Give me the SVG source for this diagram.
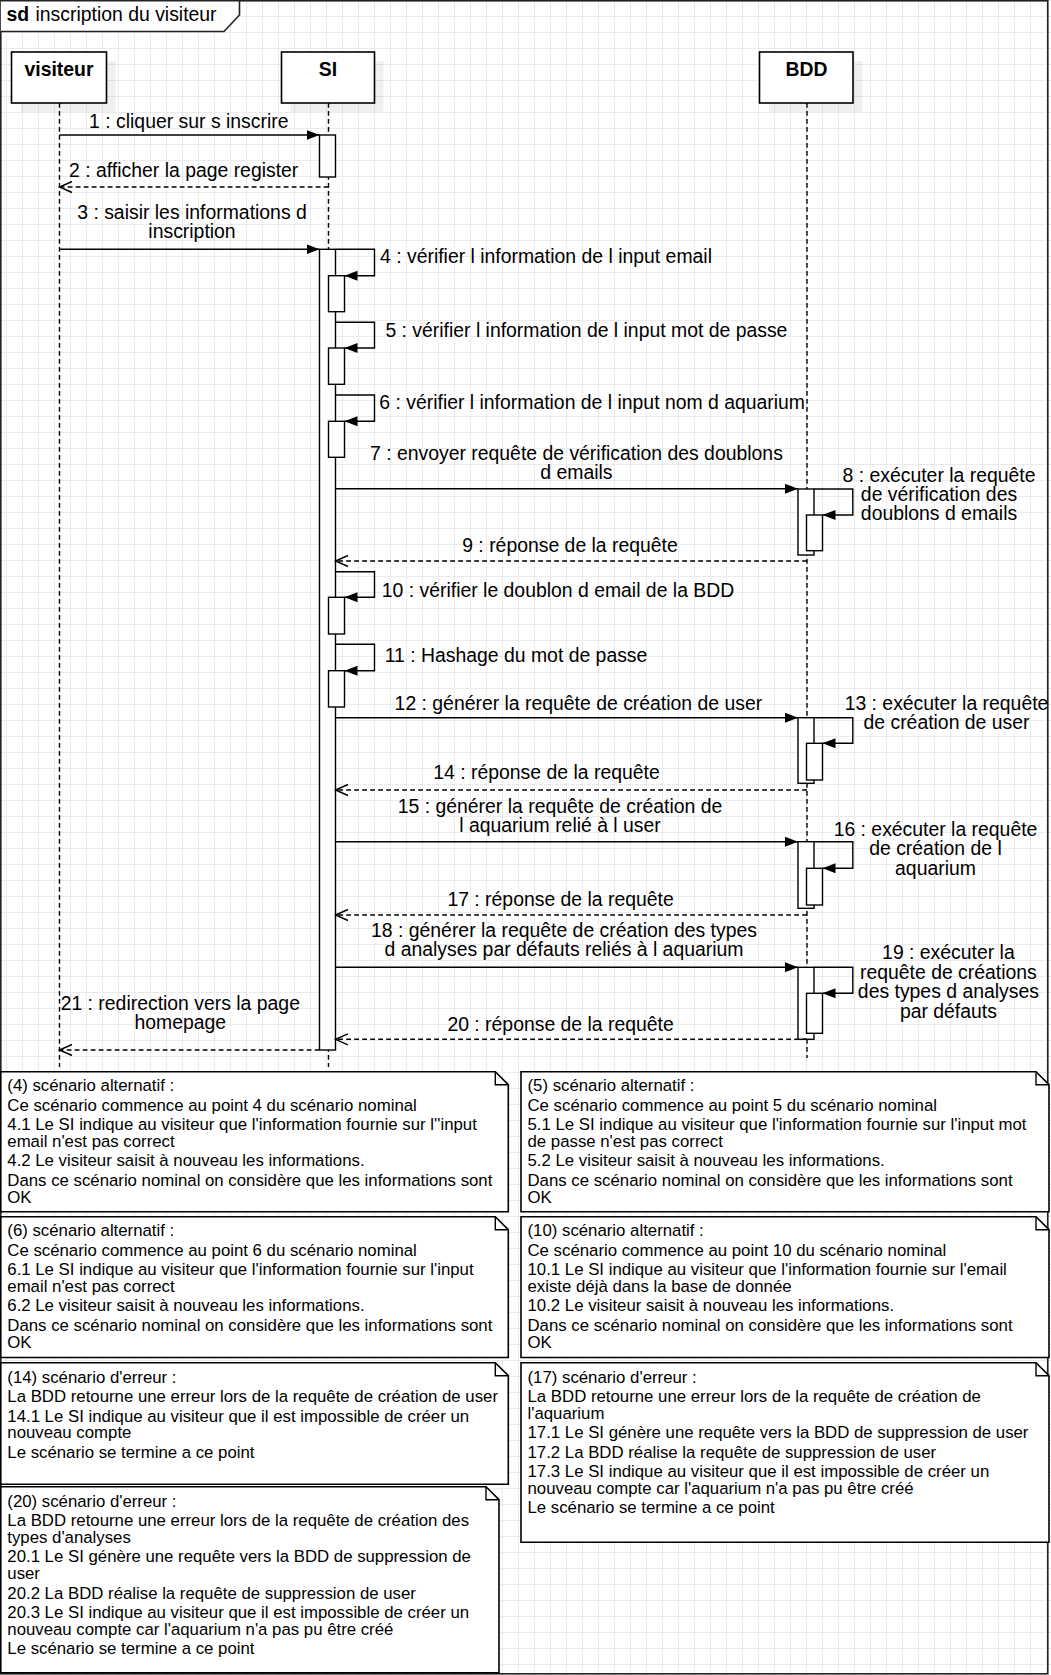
<svg xmlns="http://www.w3.org/2000/svg" width="1051" height="1675" viewBox="0 0 1051 1675">
<style>
text{font-family:"Liberation Sans",Arial,Helvetica,sans-serif;fill:#000}
.m{font-size:19.4px}
.mc{font-size:19.4px;text-anchor:middle}
.b{font-size:19.4px;font-weight:bold;text-anchor:middle}
.n{font-size:16.8px}
.box{fill:#fff;stroke:#000;stroke-width:1.6}
.shadow{fill:#000;fill-opacity:0.06}
.life{fill:none;stroke:#000;stroke-width:1.4;stroke-dasharray:4.8 3.2}
.act{fill:#fff;stroke:#000;stroke-width:1.4}
.call{fill:none;stroke:#000;stroke-width:1.4;marker-end:url(#filled)}
.ret{fill:none;stroke:#000;stroke-width:1.4;stroke-dasharray:4.8 3.2;marker-end:url(#open)}
.note{fill:#fff;stroke:#000;stroke-width:1.6}
.fold{fill:none;stroke:#000;stroke-width:1.4}
</style>
<defs>
<pattern id="grid" width="16" height="16" patternUnits="userSpaceOnUse" x="6" y="0">
<path d="M0.5 0V16M0 0.5H16" stroke="#ebebeb" stroke-width="1" fill="none"/>
</pattern>
<marker id="filled" markerUnits="userSpaceOnUse" markerWidth="14" markerHeight="12" refX="13" refY="6" orient="auto">
<path d="M0,1 L13,6 L0,11 Z" fill="#000" stroke="none"/>
</marker>
<marker id="open" markerUnits="userSpaceOnUse" markerWidth="16" markerHeight="14" refX="13.5" refY="7" orient="auto">
<path d="M1,1.5 L13.5,7 L1,12.5" fill="none" stroke="#000" stroke-width="1.4" stroke-dasharray="none"/>
</marker>
</defs>
<rect x="0" y="0" width="1051" height="1675" fill="#fff"/>
<rect x="0" y="0" width="1051" height="1675" fill="url(#grid)"/>

<g id="frame">
<rect x="0.8" y="0.8" width="1047" height="1673" fill="none" stroke="#222" stroke-width="1.6"/>
<path d="M0.8,0.8 H239.5 V15 L224,31.5 H0.8" fill="#fff" stroke="#222" stroke-width="1.6"/>
<text x="6.5" y="21" class="m" font-weight="bold">sd</text>
<text x="35.5" y="21" class="m">inscription du visiteur</text>
</g>

<g id="node-visiteur">
<rect class="shadow" x="20.5" y="61" width="95" height="51"/>
<rect class="box" x="11.5" y="52" width="95" height="51"/>
<text x="59" y="76" class="b">visiteur</text>
<line class="life" x1="59.5" y1="103" x2="59.5" y2="1067"/>
</g>

<g id="node-SI">
<rect class="shadow" x="290.5" y="61" width="93" height="51"/>
<rect class="box" x="281.5" y="52" width="93" height="51"/>
<text x="328" y="76" class="b">SI</text>
<line class="life" x1="328.5" y1="103" x2="328.5" y2="1067"/>
<rect class="act" x="319.5" y="135" width="16" height="42"/>
<rect class="act" x="319.5" y="249.3" width="16" height="800.7"/>
<rect class="act" x="328.5" y="275.7" width="16" height="36"/>
<rect class="act" x="328.5" y="348" width="16" height="36.3"/>
<rect class="act" x="328.5" y="421.3" width="16" height="36"/>
<rect class="act" x="328.5" y="597.3" width="16" height="36.7"/>
<rect class="act" x="328.5" y="670.7" width="16" height="36.3"/>
</g>

<g id="node-BDD">
<rect class="shadow" x="769" y="61" width="93.5" height="51"/>
<rect class="box" x="759.5" y="52" width="93.5" height="51"/>
<text x="806.5" y="76" class="b">BDD</text>
<line class="life" x1="807" y1="103" x2="807" y2="1058"/>
<rect class="act" x="798" y="489" width="16" height="66"/>
<rect class="act" x="806.5" y="515" width="16" height="35.7"/>
<rect class="act" x="798" y="717.7" width="16" height="65.6"/>
<rect class="act" x="806.5" y="743.3" width="16" height="36.7"/>
<rect class="act" x="798" y="841.7" width="16" height="66.6"/>
<rect class="act" x="806.5" y="868.3" width="16" height="36.7"/>
<rect class="act" x="798" y="967.3" width="16" height="72"/>
<rect class="act" x="806.5" y="993.3" width="16" height="40"/>
</g>

<g id="connectors">
<line class="call" x1="59.5" y1="135" x2="319.5" y2="135"/>
<line class="ret" x1="328.5" y1="187" x2="59.5" y2="187"/>
<line class="call" x1="59.5" y1="249.3" x2="319.5" y2="249.3"/>
<path class="call" d="M335.5,249.3 H374.5 V275.7 H344.5"/>
<path class="call" d="M335.5,322.3 H374.5 V348 H344.5"/>
<path class="call" d="M335.5,395 H374.5 V421.3 H344.5"/>
<line class="call" x1="335.5" y1="488.8" x2="798" y2="488.8"/>
<path class="call" d="M814,489 H852.8 V515 H822.5"/>
<line class="ret" x1="807" y1="561" x2="335.5" y2="561"/>
<path class="call" d="M335.5,571.7 H374.5 V597.3 H344.5"/>
<path class="call" d="M335.5,644.3 H374.5 V670.7 H344.5"/>
<line class="call" x1="335.5" y1="717.7" x2="798" y2="717.7"/>
<path class="call" d="M814,717.7 H852.8 V743.3 H822.5"/>
<line class="ret" x1="807" y1="790" x2="335.5" y2="790"/>
<line class="call" x1="335.5" y1="841.7" x2="798" y2="841.7"/>
<path class="call" d="M814,841.7 H852.8 V868.3 H822.5"/>
<line class="ret" x1="807" y1="915" x2="335.5" y2="915"/>
<line class="call" x1="335.5" y1="967.3" x2="798" y2="967.3"/>
<path class="call" d="M814,967.3 H852.8 V993.3 H822.5"/>
<line class="ret" x1="807" y1="1039.3" x2="335.5" y2="1039.3"/>
<line class="ret" x1="319.5" y1="1050" x2="59.5" y2="1050"/>
</g>

<g id="labels">
<text x="188.8" y="128.3" class="mc">1 : cliquer sur s inscrire</text>
<text x="183.7" y="176.7" class="mc">2 : afficher la page register</text>
<text x="192" y="218.8" class="mc">3 : saisir les informations d</text>
<text x="192" y="238.2" class="mc">inscription</text>
<text x="380" y="263.3" class="m">4 : vérifier l information de l input email</text>
<text x="385.4" y="336.7" class="m">5 : vérifier l information de l input mot de passe</text>
<text x="379.3" y="409.3" class="m">6 : vérifier l information de l input nom d aquarium</text>
<text x="576.4" y="460" class="mc">7 : envoyer requête de vérification des doublons</text>
<text x="576.4" y="479.3" class="mc">d emails</text>
<text x="939" y="481.5" class="mc">8 : exécuter la requête</text>
<text x="939" y="500.5" class="mc">de vérification des</text>
<text x="939" y="519.5" class="mc">doublons d emails</text>
<text x="570" y="552.3" class="mc">9 : réponse de la requête</text>
<text x="381.8" y="596.7" class="m">10 : vérifier le doublon d email de la BDD</text>
<text x="384.7" y="661.7" class="m">11 : Hashage du mot de passe</text>
<text x="578.4" y="710" class="mc">12 : générer la requête de création de user</text>
<text x="946.5" y="710" class="mc">13 : exécuter la requête</text>
<text x="946.5" y="729" class="mc">de création de user</text>
<text x="546.5" y="779.3" class="mc">14 : réponse de la requête</text>
<text x="560" y="812.7" class="mc">15 : générer la requête de création de</text>
<text x="560" y="831.5" class="mc">l aquarium relié à l user</text>
<text x="935.5" y="836" class="mc">16 : exécuter la requête</text>
<text x="935.5" y="855.3" class="mc">de création de l</text>
<text x="935.5" y="874.5" class="mc">aquarium</text>
<text x="560.6" y="905.7" class="mc">17 : réponse de la requête</text>
<text x="564" y="936.7" class="mc">18 : générer la requête de création des types</text>
<text x="564" y="956" class="mc">d analyses par défauts reliés à l aquarium</text>
<text x="948.4" y="959.3" class="mc">19 : exécuter la</text>
<text x="948.4" y="978.7" class="mc">requête de créations</text>
<text x="948.4" y="998.3" class="mc">des types d analyses</text>
<text x="948.4" y="1018" class="mc">par défauts</text>
<text x="560.6" y="1031" class="mc">20 : réponse de la requête</text>
<text x="180.3" y="1010" class="mc">21 : redirection vers la page</text>
<text x="180.3" y="1029.3" class="mc">homepage</text>
</g>

<g id="note-4">
<path class="note" d="M0.8,1071.7 H495.3 L508.3,1084.7 V1211.7 H0.8 Z"/>
<path class="fold" d="M495.3,1071.7 V1084.7 H508.3"/>
<text class="n" x="7.3" y="1091.3">(4) scénario alternatif :</text>
<text class="n" x="7.3" y="1110.7">Ce scénario commence au point 4 du scénario nominal</text>
<text class="n" x="7.3" y="1130.1">4.1 Le SI indique au visiteur que l'information fournie sur l''input</text>
<text class="n" x="7.3" y="1146.9">email n'est pas correct</text>
<text class="n" x="7.3" y="1166.3">4.2 Le visiteur saisit à nouveau les informations.</text>
<text class="n" x="7.3" y="1185.7">Dans ce scénario nominal on considère que les informations sont</text>
<text class="n" x="7.3" y="1202.5">OK</text>
</g>

<g id="note-5">
<path class="note" d="M521,1071.7 H1036 L1049,1084.7 V1211.7 H521 Z"/>
<path class="fold" d="M1036,1071.7 V1084.7 H1049"/>
<text class="n" x="527.5" y="1091.3">(5) scénario alternatif :</text>
<text class="n" x="527.5" y="1110.7">Ce scénario commence au point 5 du scénario nominal</text>
<text class="n" x="527.5" y="1130.1">5.1 Le SI indique au visiteur que l'information fournie sur l'input mot</text>
<text class="n" x="527.5" y="1146.9">de passe n'est pas correct</text>
<text class="n" x="527.5" y="1166.3">5.2 Le visiteur saisit à nouveau les informations.</text>
<text class="n" x="527.5" y="1185.7">Dans ce scénario nominal on considère que les informations sont</text>
<text class="n" x="527.5" y="1202.5">OK</text>
</g>

<g id="note-6">
<path class="note" d="M0.8,1216.7 H495.3 L508.3,1229.7 V1357.5 H0.8 Z"/>
<path class="fold" d="M495.3,1216.7 V1229.7 H508.3"/>
<text class="n" x="7.3" y="1236.3">(6) scénario alternatif :</text>
<text class="n" x="7.3" y="1255.7">Ce scénario commence au point 6 du scénario nominal</text>
<text class="n" x="7.3" y="1275.1">6.1 Le SI indique au visiteur que l'information fournie sur l'input</text>
<text class="n" x="7.3" y="1291.9">email n'est pas correct</text>
<text class="n" x="7.3" y="1311.3">6.2 Le visiteur saisit à nouveau les informations.</text>
<text class="n" x="7.3" y="1330.7">Dans ce scénario nominal on considère que les informations sont</text>
<text class="n" x="7.3" y="1347.5">OK</text>
</g>

<g id="note-10">
<path class="note" d="M521,1216.7 H1036 L1049,1229.7 V1357.5 H521 Z"/>
<path class="fold" d="M1036,1216.7 V1229.7 H1049"/>
<text class="n" x="527.5" y="1236.3">(10) scénario alternatif :</text>
<text class="n" x="527.5" y="1255.7">Ce scénario commence au point 10 du scénario nominal</text>
<text class="n" x="527.5" y="1275.1">10.1 Le SI indique au visiteur que l'information fournie sur l'email</text>
<text class="n" x="527.5" y="1291.9">existe déjà dans la base de donnée</text>
<text class="n" x="527.5" y="1311.3">10.2 Le visiteur saisit à nouveau les informations.</text>
<text class="n" x="527.5" y="1330.7">Dans ce scénario nominal on considère que les informations sont</text>
<text class="n" x="527.5" y="1347.5">OK</text>
</g>

<g id="note-14">
<path class="note" d="M0.8,1362.7 H495.3 L508.3,1375.7 V1484.3 H0.8 Z"/>
<path class="fold" d="M495.3,1362.7 V1375.7 H508.3"/>
<text class="n" x="7.3" y="1382.5">(14) scénario d'erreur :</text>
<text class="n" x="7.3" y="1402">La BDD retourne une erreur lors de la requête de création de user</text>
<text class="n" x="7.3" y="1421.5">14.1 Le SI indique au visiteur que il est impossible de créer un</text>
<text class="n" x="7.3" y="1438.3">nouveau compte</text>
<text class="n" x="7.3" y="1457.5">Le scénario se termine a ce point</text>
</g>

<g id="note-17">
<path class="note" d="M521,1362.7 H1036 L1049,1375.7 V1542.3 H521 Z"/>
<path class="fold" d="M1036,1362.7 V1375.7 H1049"/>
<text class="n" x="527.5" y="1382.5">(17) scénario d'erreur :</text>
<text class="n" x="527.5" y="1402">La BDD retourne une erreur lors de la requête de création de</text>
<text class="n" x="527.5" y="1418.7">l'aquarium</text>
<text class="n" x="527.5" y="1438.3">17.1 Le SI génère une requête vers la BDD de suppression de user</text>
<text class="n" x="527.5" y="1457.6">17.2 La BDD réalise la requête de suppression de user</text>
<text class="n" x="527.5" y="1476.8">17.3 Le SI indique au visiteur que il est impossible de créer un</text>
<text class="n" x="527.5" y="1494">nouveau compte car l'aquarium n'a pas pu être créé</text>
<text class="n" x="527.5" y="1513.4">Le scénario se termine a ce point</text>
</g>

<g id="note-20">
<path class="note" d="M0.8,1486.7 H486 L499,1499.7 V1672.7 H0.8 Z"/>
<path class="fold" d="M486,1486.7 V1499.7 H499"/>
<text class="n" x="7.3" y="1506.5">(20) scénario d'erreur :</text>
<text class="n" x="7.3" y="1526">La BDD retourne une erreur lors de la requête de création des</text>
<text class="n" x="7.3" y="1542.8">types d'analyses</text>
<text class="n" x="7.3" y="1562.4">20.1 Le SI génère une requête vers la BDD de suppression de</text>
<text class="n" x="7.3" y="1579.2">user</text>
<text class="n" x="7.3" y="1598.5">20.2 La BDD réalise la requête de suppression de user</text>
<text class="n" x="7.3" y="1617.8">20.3 Le SI indique au visiteur que il est impossible de créer un</text>
<text class="n" x="7.3" y="1634.8">nouveau compte car l'aquarium n'a pas pu être créé</text>
<text class="n" x="7.3" y="1654.3">Le scénario se termine a ce point</text>
</g>
</svg>
